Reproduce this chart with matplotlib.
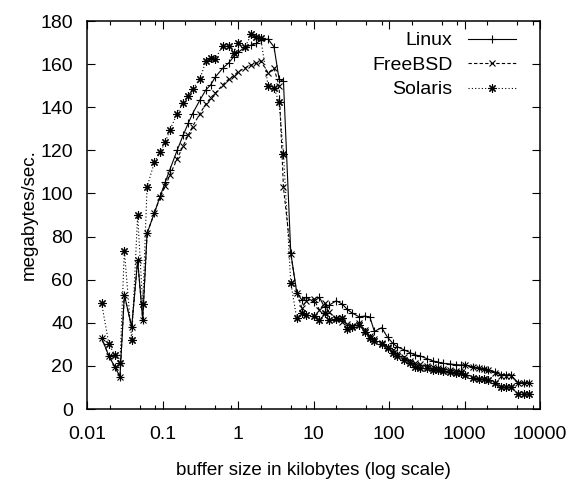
import matplotlib
matplotlib.use("Agg")
import matplotlib.pyplot as plt
from matplotlib.ticker import LogLocator, FixedLocator, NullFormatter, FixedFormatter

plt.rcParams['font.family'] = ['Liberation Sans', 'DejaVu Sans']

# buffer sizes in bytes (4 steps per power of two)
buf_bytes = [
    16, 20, 24, 28, 32, 40, 48, 56, 64, 80, 96, 112,
    128, 160, 192, 224, 256, 320, 384, 448, 512, 640, 768, 896,
    1024, 1280, 1536, 1792, 2048, 2560, 3072, 3584,
    4096, 5120, 6144, 7168, 8192, 10240, 12288, 14336,
    16384, 20480, 24576, 28672, 32768, 40960, 49152, 57344,
    65536, 81920, 98304, 114688, 131072, 163840, 196608, 229376,
    262144, 327680, 393216, 458752, 524288, 655360, 786432, 917504,
    1048576, 1310720, 1572864, 1835008, 2097152, 2621440, 3145728, 3670016,
    4194304, 5242880, 6291456, 7340032,
]
buf_kb = [b / 1024 for b in buf_bytes]

linux = [
    33, 24.5, 19.5, 15, 53, 38, 69, 41.5, 81.5, 91,
    99, 105.5, 111, 120, 127, 132.5, 137, 143.3, 148, 150.5, 154, 158, 160.5, 163.4,
    165.4, 168, 168.8, 169.6, 171.2, 171.6, 168, 153, 152,
    72.5, 54, 50.6, 51.8, 49.8, 51.8, 47.2, 48.1, 50.2, 48.7, 46.2, 44.7, 42.8, 43.1, 42.5, 36,
    37.7, 33.2, 30.5, 28.9, 27.4, 26.1, 25, 24.7, 23.3, 22.3, 21.7, 21.2, 20.9, 20.6, 20.4,
    20.5, 19.5, 19, 18.6, 18.3, 17, 16, 15.8, 15.8, 12.2, 12.2, 12.2,
]
freebsd = [
    33, 24.5, 19.5, 15, 53, 38, 69, 41.5, 81.5, 91,
    98.5, 103.5, 108.5, 116, 122, 127, 131, 137, 141.5, 144.5, 146.5, 150.3, 153, 154.5,
    156.5, 158.3, 159.6, 160.4, 161.5, 156, 158, 150, 102.8,
    72, 54, 47, 50, 51, 46, 49, 45, 42, 40.5, 39.5, 38.5, 40, 36.5, 34, 32.5,
    30.8, 28.8, 27.2, 25.7, 24, 22.4, 21.5, 20.7, 20, 19.3, 18.8, 18.4, 18, 17.6, 17.3,
    20.3, 19.3, 18.9, 18.4, 18.1, 16.8, 15.5, 15.5, 15.5, 11.9, 11.9, 11.9,
]
solaris = [
    49, 30, 25, 21.5, 73.5, 32, 90, 48.5, 103, 114.5,
    119.3, 124, 129.4, 137, 142.1, 145.2, 148.4, 153, 161.3, 163, 162.5, 168.4, 168.4, 165.3,
    170, 168.1, 173.9, 172.4, 172, 150, 149, 142.2, 118.5,
    58.6, 42, 44.5, 43.5, 43.1, 41.3, 44.4, 41.3, 41.6, 42.1, 37, 38, 39, 35.9, 32.8, 31.7,
    30.1, 28.2, 26.1, 24.6, 22.7, 21.2, 19.6, 19.2, 18.8, 18.3, 18.0, 17.5, 17.2, 16.8, 16.5,
    16.0, 14.5, 14.0, 13.8, 13.3, 12.2, 10.4, 10.2, 10.2, 7, 7, 7,
]

x_ticks = [0.01, 0.1, 1, 10, 100, 1000, 10000]
x_labels = ['0.01', '0.1', '1', '10', '100', '1000', '10000']
y_ticks = [0, 20, 40, 60, 80, 100, 120, 140, 160, 180]

fig = plt.figure(figsize=(5.69, 4.91), dpi=100)
ax = fig.add_axes([87 / 569, 1 - 409 / 491, 453 / 569, 388 / 491])

style = dict(color='black', linewidth=0.8, markersize=5.5, markeredgewidth=0.8)
ax.plot(buf_kb, linux, linestyle='-', marker='+', label='Linux', **style)
ax.plot(buf_kb, freebsd, linestyle=(0, (3, 2)), marker='x', label='FreeBSD',
        **dict(style, markersize=4.5))
ax.plot(buf_kb, solaris, linestyle=(0, (1, 2)), marker=(8, 2, 0), label='Solaris',
        **dict(style, markersize=6))

ax.set_xscale('log')
ax.set_xlim(0.01, 10000)
ax.set_ylim(0, 180)
ax.xaxis.set_major_locator(FixedLocator(x_ticks))
ax.xaxis.set_major_formatter(FixedFormatter(x_labels))
ax.xaxis.set_minor_locator(LogLocator(base=10, subs=[2, 5, 8]))
ax.xaxis.set_minor_formatter(NullFormatter())
ax.set_yticks(y_ticks)

ax.tick_params(which='both', direction='in', top=True, right=True, width=0.8)
ax.tick_params(which='major', length=6)
ax.tick_params(which='minor', length=3)
ax.tick_params(axis='x', labelsize=14, pad=12)
ax.tick_params(axis='y', labelsize=14, pad=10)
for sp in ax.spines.values():
    sp.set_linewidth(1.1)

ax.set_xlabel('buffer size in kilobytes (log scale)', fontsize=13.5, labelpad=14)
ax.set_ylabel('megabytes/sec.', fontsize=13.5, labelpad=2)

ax.legend(loc='upper right', bbox_to_anchor=(0.948, 0.972), frameon=False,
          markerfirst=False, fontsize=14, handlelength=2.5, handletextpad=0.8,
          labelspacing=0.35, borderaxespad=0.0, borderpad=0.0)

fig.savefig('out.png', dpi=100)
